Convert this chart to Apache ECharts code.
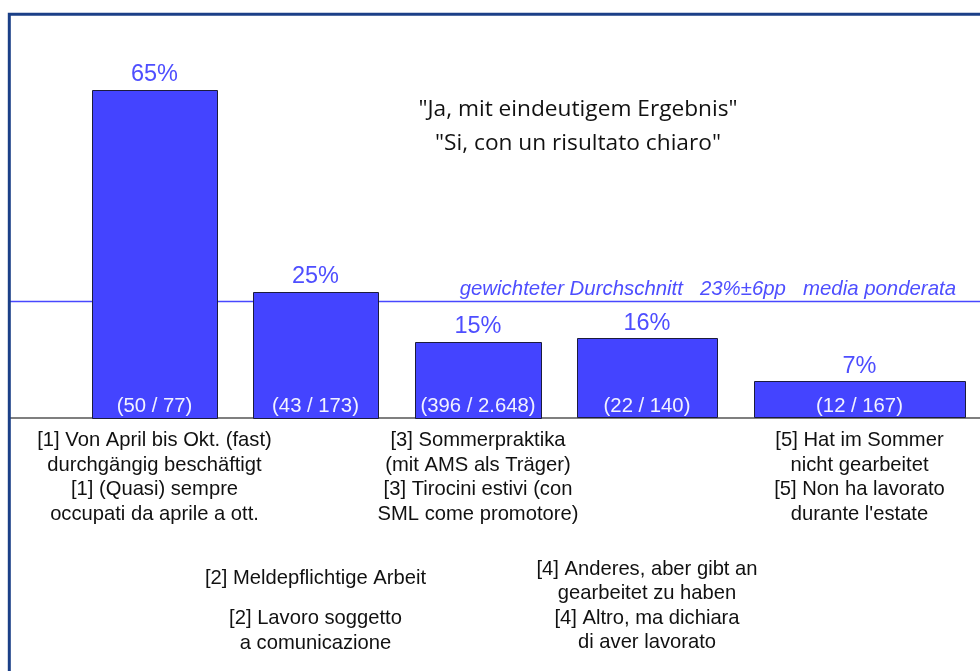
<!DOCTYPE html>
<html lang="de">
<head>
    <meta charset="UTF-8">
    <title>Ja, mit eindeutigem Ergebnis</title>
    <script src="https://cdn.jsdelivr.net/npm/echarts@6/dist/echarts.min.js"></script>
    <style>
        html, body { margin: 0; padding: 0; background: #fff; }
        #chart { width: 980px; height: 671px; }
    </style>
</head>
<body>
<div id="chart"></div>
<script type="text/javascript">
	// Daten
	var labelsDe = [
		'[1] Von April bis Okt. (fast)\ndurchgängig beschäftigt',
		'[2] Meldepflichtige Arbeit',
		'[3] Sommerpraktika\n(mit AMS als Träger)',
		'[4] Anderes, aber gibt an\ngearbeitet zu haben',
		'[5] Hat im Sommer\nnicht gearbeitet'
	];
	var labelsIt = [
		'[1] (Quasi) sempre\noccupati da aprile a ott.',
		'[2] Lavoro soggetto\na comunicazione',
		'[3] Tirocini estivi (con\nSML come promotore)',
		'[4] Altro, ma dichiara\ndi aver lavorato',
		'[5] Non ha lavorato\ndurante l\'estate'
	];
	var shares = [64.9, 24.9, 15.0, 15.7, 7.2];      // Anteil in %
	var hits = [50, 43, 396, 22, 12];
	var totals = [77, 173, 2648, 140, 167];
	// Spaltenausdehnung auf der x-Achse (ungleich breite Säulen)
	var colStart = [82, 243, 405, 567, 744];
	var colEnd = [207, 368, 531, 707, 955];
	var avgShare = 23;
	var avgText = 'gewichteter Durchschnitt   23%±6pp   media ponderata';
	var titleText = '"Ja, mit eindeutigem Ergebnis"\n"Si, con un risultato chiaro"';

	// Layout der Beschriftungen unter der Achse (Abstand erste Zeile zur Grundlinie)
	var labelDrop = [23, 160.5, 23, 151.5, 23];
	var labelGap = [0, 16, 0, 0, 0];
	var lineH = 24.6;
	var sans = '"Liberation Sans", Arial, sans-serif';

	function fmt(n) {
		return String(n).replace(/\B(?=(\d{3})+(?!\d))/g, '.');
	}

	var data = [];
	for (var i = 0; i < shares.length; i++) {
		data.push([colStart[i], colEnd[i], shares[i]]);
	}

	var chart = echarts.init(document.getElementById('chart'));

	function renderBar(params, api) {
		var idx = params.dataIndex;
		var p0 = api.coord([api.value(0), 0]);
		var p1 = api.coord([api.value(1), api.value(2)]);
		var cx = (p0[0] + p1[0]) / 2;
		var base = p0[1];
		var deLines = labelsDe[idx].split('\n').length;
		var deTop = base + labelDrop[idx] - lineH / 2;
		var itTop = deTop + deLines * lineH + labelGap[idx];
		return {
			type: 'group',
			children: [
				{
					type: 'rect',
					shape: {x: Math.round(p0[0]) + 0.5, y: Math.round(p1[1]) + 0.5,
						width: Math.round(p1[0] - p0[0]), height: Math.round(base - p1[1])},
					style: {fill: '#4444ff', stroke: '#1c1c3c', lineWidth: 1}
				},
				{
					type: 'text',
					x: cx, y: p1[1] - 15,
					style: {text: Math.round(shares[idx]) + '%', fill: '#4e4eff',
						fontSize: 23.5, fontFamily: sans, align: 'center', verticalAlign: 'middle'}
				},
				{
					type: 'text',
					x: cx, y: base - 11.5,
					style: {text: '(' + fmt(hits[idx]) + ' / ' + fmt(totals[idx]) + ')', fill: '#f2f2ff',
						fontSize: 20.3, fontFamily: sans, align: 'center', verticalAlign: 'middle'}
				},
				{
					type: 'text',
					x: cx, y: deTop,
					style: {text: labelsDe[idx], fill: '#111', fontSize: 20.2, fontFamily: sans,
						lineHeight: lineH, align: 'center', verticalAlign: 'top'}
				},
				{
					type: 'text',
					x: cx, y: itTop,
					style: {text: labelsIt[idx], fill: '#111', fontSize: 20.2, fontFamily: sans,
						lineHeight: lineH, align: 'center', verticalAlign: 'top'}
				}
			]
		};
	}

	// gewichteter Durchschnitt als waagrechte Linie über die ganze Breite
	function renderAvg(params, api) {
		var v = api.value(0);
		var a = api.coord([0, v]);
		var b = api.coord([970, v]);
		var y = Math.round(a[1]) + 0.5;
		return {
			type: 'group',
			children: [
				{
					type: 'line',
					shape: {x1: a[0], y1: y, x2: b[0], y2: y},
					style: {stroke: '#4848ff', lineWidth: 1.3}
				},
				{
					type: 'text',
					x: b[0] - 24, y: y - 12,
					style: {text: avgText, fill: '#4e4eff', fontSize: 20.4, fontStyle: 'italic',
						fontFamily: sans, align: 'right', verticalAlign: 'middle'}
				}
			]
		};
	}

	var option = {
		animation: false,
		grid: {left: 10, right: 0, top: 13.5, height: 404},
		xAxis: {
			type: 'value', min: 0, max: 970,
			axisLine: {show: true, onZero: false, lineStyle: {color: '#7f7f7f', width: 2}},
			axisTick: {show: false}, axisLabel: {show: false}, splitLine: {show: false}
		},
		yAxis: {
			type: 'value', min: 0, max: 80, show: false
		},
		graphic: [
			{
				type: 'rect',
				shape: {x: 9.3, y: 14.2, width: 1200, height: 1000},
				style: {fill: 'none', stroke: '#1b3f87', lineWidth: 3},
				z: 100
			},
			{
				type: 'text',
				x: 578, y: 127,
				style: {text: titleText, fill: '#111', fontSize: 22.7, fontFamily: '"Open Sans", sans-serif',
					lineHeight: 34, align: 'center', verticalAlign: 'middle'}
			}
		],
		series: [
			{
				type: 'custom',
				z: 1,
				silent: true,
				renderItem: renderAvg,
				encode: {y: 0},
				data: [[avgShare]]
			},
			{
				type: 'custom',
				z: 5,
				renderItem: renderBar,
				encode: {x: [0, 1], y: 2},
				data: data
			}
		]
	};
	chart.setOption(option);
</script>
</body>
</html>
